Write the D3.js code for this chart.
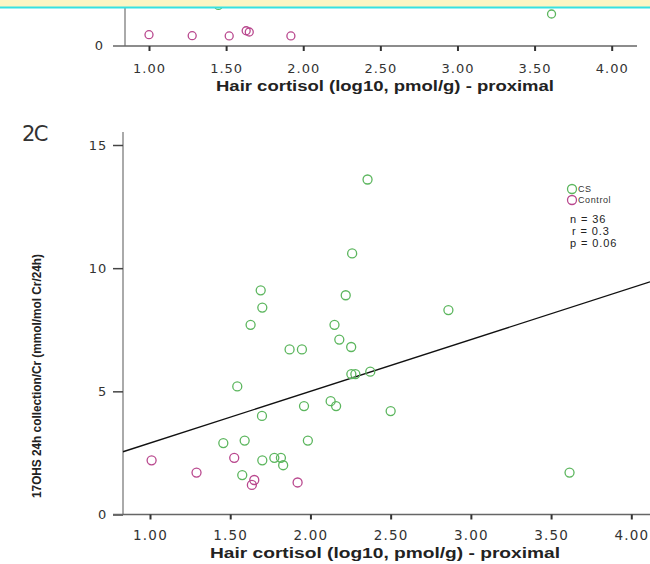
<!DOCTYPE html>
<html>
<head>
<meta charset="utf-8">
<script src="https://cdn.jsdelivr.net/npm/d3@7"></script>
<style>
  body { margin: 0; background: #fff; }
  svg { display: block; }
  .tick text { font-family: "DejaVu Sans", sans-serif; fill: #333; }
</style>
</head>
<body>
<div id="chart"></div>
<script>
// ---- data ----
var xTicks = [1.0, 1.5, 2.0, 2.5, 3.0, 3.5, 4.0];
var yTicks = [0, 5, 10, 15];

// panel 2C, CS group (hair cortisol, 17OHS)
var csX = [2.356, 2.26, 1.69, 2.22, 1.70, 2.86, 1.627, 2.15, 2.18, 2.254,
           1.87, 1.947, 2.255, 2.28, 2.373, 1.544, 2.126, 1.96, 2.16, 2.50,
           1.698, 1.457, 1.59, 1.984, 1.70, 1.775, 1.816, 1.83, 1.575, 3.615];
var csY = [13.6, 10.6, 9.1, 8.9, 8.4, 8.3, 7.7, 7.7, 7.1, 6.8,
           6.7, 6.7, 5.7, 5.7, 5.8, 5.2, 4.6, 4.4, 4.4, 4.2,
           4.0, 2.9, 3.0, 3.0, 2.2, 2.3, 2.3, 2.0, 1.6, 1.7];
// panel 2C, control group
var ctrlX = [1.01, 1.29, 1.525, 1.65, 1.635, 1.92];
var ctrlY = [2.2, 1.7, 2.3, 1.4, 1.2, 1.3];

// fit line (CS), y = a + b*x
var fitIntercept = 0.80, fitSlope = 2.10;

// panel above (only its bottom edge is visible)
var topCsX = [1.45, 3.61];
var topCsY = [1.65, 1.3];
var topCtrlX = [1.00, 1.28, 1.52, 1.63, 1.65, 1.92];
var topCtrlY = [0.46, 0.42, 0.41, 0.62, 0.57, 0.41];

var legendNames = ["CS", "Control"];
var statLines = ["n = 36", "r = 0.3", "p = 0.06"];
var xTitle = "Hair cortisol (log10, pmol/g) - proximal";
var yTitle = "17OHS 24h collection/Cr (mmol/mol Cr/24h)";

var green = "#5cb65e", magenta = "#b9488e";

var width = 650, height = 564;
var svg = d3.select("#chart").append("svg")
    .attr("width", width).attr("height", height);

function pts(xs, ys) { return xs.map(function (x, i) { return [x, ys[i]]; }); }

// ---------- top panel (cut off) ----------
var tx = d3.scaleLinear().domain([1, 4]).range([149, 611.7]);
var ty = d3.scaleLinear().domain([0, 15]).range([46, 46 - 15 * 24.6]);
var topPanel = svg.append("g");

topPanel.append("line").attr("x1", 125).attr("x2", 125).attr("y1", 0).attr("y2", 46)
    .attr("stroke", "#aaa").attr("stroke-width", 2);
topPanel.append("line").attr("x1", 113).attr("x2", 637).attr("y1", 46).attr("y2", 46)
    .attr("stroke", "#666").attr("stroke-width", 1.5);
topPanel.append("text").attr("x", 103).attr("y", 50).attr("text-anchor", "end")
    .attr("font-family", "DejaVu Sans").attr("font-size", 13).attr("fill", "#333").text("0");

var topAxis = topPanel.append("g").attr("transform", "translate(0,46)")
    .call(d3.axisBottom(tx).tickValues(xTicks).tickFormat(d3.format(".2f"))
        .tickSize(5).tickPadding(13));
topAxis.select(".domain").remove();
topAxis.selectAll(".tick line").attr("stroke", "#333").attr("stroke-width", 2);
topAxis.selectAll(".tick text").attr("font-size", 13).attr("letter-spacing", 1);

topPanel.append("text").attr("x", 385).attr("y", 91).attr("text-anchor", "middle")
    .attr("font-family", "Liberation Sans, Arial, sans-serif").attr("font-weight", "bold")
    .attr("font-size", 14).attr("fill", "#222")
    .attr("textLength", 338).attr("lengthAdjust", "spacingAndGlyphs").text(xTitle);

topPanel.selectAll("circle.tc").data(pts(topCsX, topCsY)).enter().append("circle")
    .attr("class", "tc")
    .attr("cx", function (d) { return tx(d[0]); })
    .attr("cy", function (d) { return ty(d[1]); })
    .attr("r", 4).attr("fill", "none").attr("stroke", green).attr("stroke-width", 1.3);
topPanel.selectAll("circle.tm").data(pts(topCtrlX, topCtrlY)).enter().append("circle")
    .attr("class", "tm")
    .attr("cx", function (d) { return tx(d[0]); })
    .attr("cy", function (d) { return ty(d[1]); })
    .attr("r", 4).attr("fill", "none").attr("stroke", magenta).attr("stroke-width", 1.3);

// yellow strip with cyan rule at the very top
svg.append("rect").attr("x", 0).attr("y", 0).attr("width", width).attr("height", 7)
    .attr("fill", "#fcf6c4");
svg.append("line").attr("x1", 0).attr("x2", width).attr("y1", 7.5).attr("y2", 7.5)
    .attr("stroke", "#36e2e2").attr("stroke-width", 2);

// ---------- panel 2C ----------
var x = d3.scaleLinear().domain([1, 4]).range([150, 631.3]);
var y = d3.scaleLinear().domain([0, 15]).range([514.5, 145]);
var xMin = x.invert(123), xMax = x.invert(650);

svg.append("text").attr("x", 22).attr("y", 141)
    .attr("font-family", "DejaVu Sans, sans-serif").attr("font-size", 21)
    .attr("fill", "#333").attr("letter-spacing", -1.5).text("2C");

var plot = svg.append("g");

// y axis
plot.append("line").attr("x1", 123).attr("x2", 123).attr("y1", 132).attr("y2", 514.5)
    .attr("stroke", "#aaa").attr("stroke-width", 2);
var yAxis = plot.append("g").attr("transform", "translate(123,0)")
    .call(d3.axisLeft(y).tickValues(yTicks).tickSize(10).tickPadding(6));
yAxis.select(".domain").remove();
yAxis.selectAll(".tick line").attr("stroke", "#444").attr("stroke-width", 1.5);
yAxis.selectAll(".tick text").attr("font-size", 13).attr("letter-spacing", 0.8);

// x axis
plot.append("line").attr("x1", 113).attr("x2", 650).attr("y1", 514.5).attr("y2", 514.5)
    .attr("stroke", "#666").attr("stroke-width", 1.5);
var xAxis = plot.append("g").attr("transform", "translate(0,514.5)")
    .call(d3.axisBottom(x).tickValues(xTicks).tickFormat(d3.format(".2f"))
        .tickSize(5).tickPadding(11));
xAxis.select(".domain").remove();
xAxis.selectAll(".tick line").attr("stroke", "#333").attr("stroke-width", 2);
xAxis.selectAll(".tick text").attr("font-size", 13.5).attr("letter-spacing", 1.2);

plot.append("text").attr("x", 385).attr("y", 558).attr("text-anchor", "middle")
    .attr("font-family", "Liberation Sans, Arial, sans-serif").attr("font-weight", "bold")
    .attr("font-size", 14.5).attr("fill", "#222")
    .attr("textLength", 350).attr("lengthAdjust", "spacingAndGlyphs").text(xTitle);

plot.append("text").attr("transform", "translate(41,376) rotate(-90)")
    .attr("text-anchor", "middle")
    .attr("font-family", "Liberation Sans, Arial, sans-serif").attr("font-weight", "bold")
    .attr("font-size", 12).attr("fill", "#222")
    .attr("textLength", 244).attr("lengthAdjust", "spacingAndGlyphs").text(yTitle);

// fit line
var line = d3.line().x(function (d) { return x(d); })
    .y(function (d) { return y(fitIntercept + fitSlope * d); });
plot.append("path").datum([xMin, xMax]).attr("d", line)
    .attr("fill", "none").attr("stroke", "#111").attr("stroke-width", 1.4);

// points
plot.selectAll("circle.cs").data(pts(csX, csY)).enter().append("circle")
    .attr("class", "cs")
    .attr("cx", function (d) { return x(d[0]); })
    .attr("cy", function (d) { return y(d[1]); })
    .attr("r", 4.5).attr("fill", "none").attr("stroke", green).attr("stroke-width", 1.3);
plot.selectAll("circle.ctrl").data(pts(ctrlX, ctrlY)).enter().append("circle")
    .attr("class", "ctrl")
    .attr("cx", function (d) { return x(d[0]); })
    .attr("cy", function (d) { return y(d[1]); })
    .attr("r", 4.5).attr("fill", "none").attr("stroke", magenta).attr("stroke-width", 1.3);

// legend
var legend = svg.append("g").attr("transform", "translate(572,189)");
legend.selectAll("circle").data(legendNames).enter().append("circle")
    .attr("cx", 0).attr("cy", function (d, i) { return i * 11; })
    .attr("r", 4.5).attr("fill", "none").attr("stroke-width", 1.3)
    .attr("stroke", function (d, i) { return i === 0 ? green : magenta; });
legend.selectAll("text").data(legendNames).enter().append("text")
    .attr("x", 6).attr("y", function (d, i) { return i * 11 + 3; })
    .attr("font-family", "Liberation Sans, Arial, sans-serif").attr("font-size", 9)
    .attr("letter-spacing", 0.6)
    .attr("fill", "#333").text(function (d) { return d; });

svg.append("g").selectAll("text").data(statLines).enter().append("text")
    .attr("x", function (d, i) { return i === 1 ? 572 : 570; })
    .attr("y", function (d, i) { return 223 + i * 12; })
    .attr("font-family", "Liberation Sans, Arial, sans-serif").attr("font-size", 11)
    .attr("letter-spacing", 0.9)
    .attr("fill", "#222").text(function (d) { return d; });
</script>
</body>
</html>
